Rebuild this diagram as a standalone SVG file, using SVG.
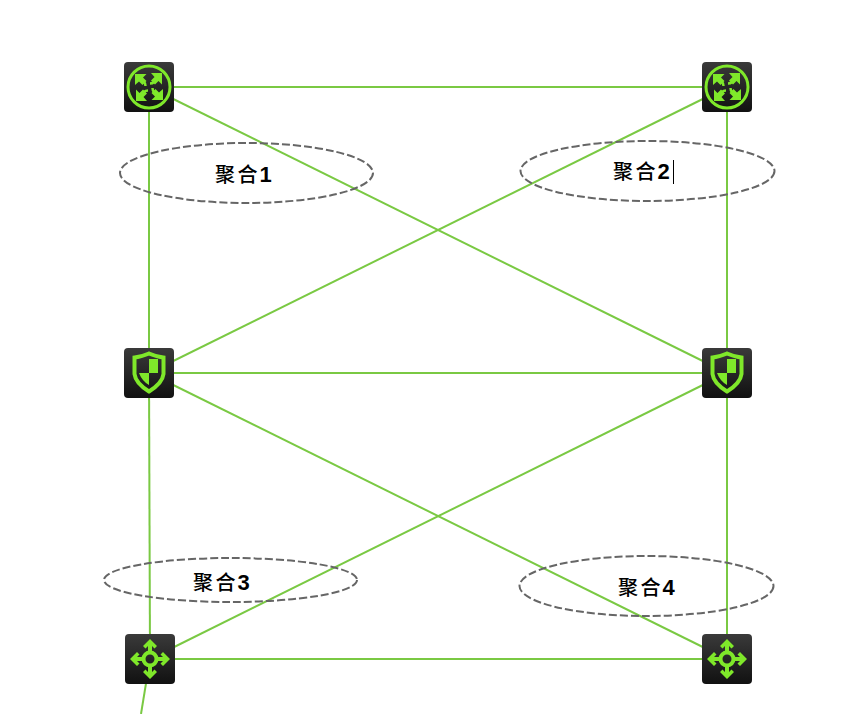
<svg xmlns="http://www.w3.org/2000/svg" width="868" height="714" viewBox="0 0 868 714">
<style>
.c{stroke:#7ac943;stroke-width:2;fill:none}
.e{fill:none;stroke:#666;stroke-width:2;stroke-dasharray:8 3}
.t{font-family:"Noto Sans CJK SC","Liberation Sans",sans-serif;font-size:20px;font-weight:500;fill:#000;letter-spacing:2.500px}
.t tspan{font-family:"Liberation Sans",sans-serif;font-weight:700;font-size:22px;letter-spacing:0}
.i{fill:#7fe82a}
.s{fill:none;stroke:#7fe82a;stroke-width:3}
.s4{fill:none;stroke:#7fe82a;stroke-width:4}
.s2{fill:none;stroke:#7fe82a;stroke-width:2.500}
</style>
<defs>
<linearGradient id="g" x1="0" y1="0" x2="0" y2="1"><stop offset="0" stop-color="#3a3a3a"/><stop offset="1" stop-color="#111"/></linearGradient>
<rect id="box" x="-25" y="-25" width="50" height="50" rx="4" fill="url(#g)"/>
<g id="corner"><path class="i" d="M-14-13H-2.500L-6-9.500-2.500-6-6.500-2-10-5.500-14-2Z"/><path class="s2" d="M-5-5Q-3.500-3.500-3.500-1"/></g>
<g id="router"><use href="#box"/><circle class="s" r="21"/><use href="#corner"/><use href="#corner" transform="rotate(90)"/><use href="#corner" transform="rotate(180)"/><use href="#corner" transform="rotate(270)"/></g>
<g id="shield"><use href="#box"/><path class="s4" d="M0-19.500Q8-16 14.500-15.500V1Q13.500 10 0 18.500Q-13.500 10-14.500 1V-15.500Q-8-16 0-19.500Z"/><path class="i" d="M0-14H9V0H0ZM0 0V12Q-7 8-10 0Z"/></g>
<g id="arrow"><path class="i" d="M0-20L7-13 4.500-10.500 2-13V-7H-2V-13L-4.500-10.500-7-13Z"/></g>
<g id="cross"><use href="#box"/><circle class="s4" r="6.500"/><use href="#arrow"/><use href="#arrow" transform="rotate(90)"/><use href="#arrow" transform="rotate(180)"/><use href="#arrow" transform="rotate(270)"/></g>
</defs>
<rect width="868" height="714" fill="#fff"/>
<g id="connectors">
<path class="c" d="M149 87H727"/>
<path class="c" d="M149 87V373"/>
<path class="c" d="M149 87L727 373"/>
<path class="c" d="M727 87L149 373"/>
<path class="c" d="M727 87V373"/>
<path class="c" d="M149 373H727"/>
<path class="c" d="M149 373L150 659"/>
<path class="c" d="M149 373L727 659"/>
<path class="c" d="M727 373L150 659"/>
<path class="c" d="M727 373V659"/>
<path class="c" d="M150 659H727"/>
<path class="c" d="M150 659L141 714"/>
</g>
<g id="node-r1"><use href="#router" transform="translate(149 87)"/></g>
<g id="node-r2"><use href="#router" transform="translate(727 87)"/></g>
<g id="node-f1"><use href="#shield" transform="translate(149 373)"/></g>
<g id="node-f2"><use href="#shield" transform="translate(727 373)"/></g>
<g id="node-s1"><use href="#cross" transform="translate(150 659)"/></g>
<g id="node-s2"><use href="#cross" transform="translate(727 659)"/></g>
<g id="agg1"><ellipse class="e" cx="246.500" cy="173" rx="126.500" ry="30"/><text class="t" x="215" y="182">聚合<tspan dx="-0.500">1</tspan></text></g>
<g id="agg2"><ellipse class="e" cx="647.500" cy="171" rx="127" ry="30"/><text class="t" x="613" y="179">聚合<tspan dx="-0.500">2</tspan></text><path d="M673.500 160V184" stroke="#000" stroke-width="1"/></g>
<g id="agg3"><ellipse class="e" cx="230.500" cy="580" rx="126.500" ry="22"/><text class="t" x="193" y="590">聚合<tspan dx="-0.500">3</tspan></text></g>
<g id="agg4"><ellipse class="e" cx="646.500" cy="586" rx="127" ry="30"/><text class="t" x="618" y="595">聚合<tspan dx="-0.500">4</tspan></text></g>
</svg>
